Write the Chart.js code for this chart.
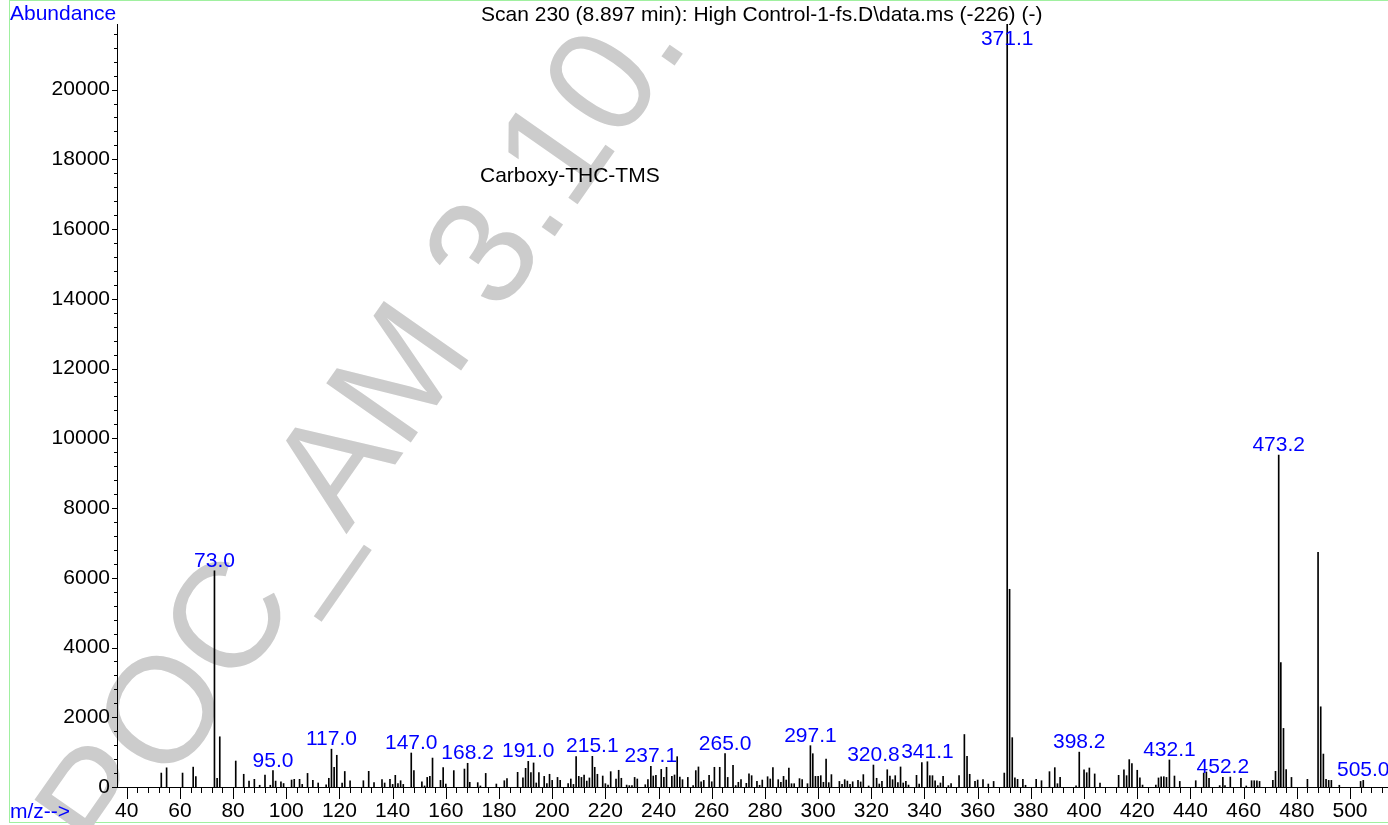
<!DOCTYPE html>
<html>
<head>
<meta charset="utf-8">
<title>Scan 230 - Carboxy-THC-TMS</title>
<script src="https://cdn.jsdelivr.net/npm/chart.js@4.4.1/dist/chart.umd.min.js"></script>
<style>
  html, body { margin: 0; padding: 0; background: #fff; }
  #wrap { width: 1388px; height: 825px; }
</style>
</head>
<body>
<div id="wrap"><canvas id="spectrum"></canvas></div>
<script>
// m/z of each peak
const mz = [
  53, 55, 61, 65, 66, 73.0, 74, 75, 81, 84,
  86, 88, 90, 92, 94, 95.0, 96, 98, 99, 102,
  103, 105, 106, 108, 110, 112, 115, 116, 117.0, 118,
  119, 121, 122, 124, 129, 131, 133, 136, 137, 139,
  140, 141, 142, 143, 144, 147.0, 148, 151, 152, 153,
  154, 155, 158, 159, 160, 163, 167, 168.2, 169, 172,
  173, 175, 179, 182, 183, 187, 189, 190, 191.0, 192,
  193, 194, 195, 197, 198, 199, 200, 202, 203, 206,
  207, 208, 209, 210, 211, 212, 213, 214, 215.1, 216,
  217, 219, 220, 221, 222, 224, 225, 226, 228, 229,
  230, 231, 232, 235, 236, 237.1, 238, 239, 241, 242,
  243, 245, 246, 247, 248, 249, 251, 253, 254, 255,
  256, 257, 259, 260, 261, 263, 265.0, 266, 268, 269,
  270, 271, 273, 274, 275, 277, 278, 279, 281, 282,
  283, 285, 286, 287, 288, 289, 290, 291, 293, 294,
  296, 297.1, 298, 299, 300, 301, 302, 303, 304, 305,
  308, 309, 310, 311, 312, 313, 315, 316, 317, 319,
  320.8, 322, 323, 324, 326, 327, 328, 329, 330, 331,
  332, 333, 334, 337, 338, 339, 341.1, 342, 343, 344,
  345, 346, 347, 349, 350, 353, 355, 356, 357, 359,
  360, 362, 364, 366, 370, 371.1, 372, 373, 374, 375,
  377, 378, 382, 384, 387, 389, 390, 391, 397, 398.2,
  400, 401, 402, 404, 406, 413, 415, 416, 417, 418,
  420, 421, 422, 427, 428, 429, 430, 431, 432.1, 434,
  436, 442, 445, 446, 447, 451, 452.2, 453, 455, 459,
  461, 463, 464, 465, 466, 471, 472, 473.2, 474, 475,
  476, 478, 484, 488, 489, 490, 491, 492, 493, 496,
  504, 505.0
];
const abundance = [
  400, 550, 400, 570, 300, 6200, 250, 1440, 745, 365,
  170, 220, 50, 345, 50, 470, 170, 145, 100, 200,
  220, 220, 75, 390, 190, 115, 60, 250, 1085, 565,
  910, 110, 445, 180, 180, 450, 125, 210, 115, 220,
  75, 335, 95, 180, 75, 975, 470, 150, 30, 275,
  305, 830, 190, 555, 85, 470, 515, 680, 135, 125,
  30, 390, 85, 180, 240, 420, 260, 535, 735, 410,
  690, 115, 410, 305, 95, 365, 190, 275, 190, 95,
  230, 75, 870, 305, 275, 345, 170, 260, 880, 565,
  365, 315, 95, 55, 440, 230, 480, 250, 55, 40,
  40, 275, 230, 65, 210, 590, 315, 335, 505, 275,
  565, 305, 345, 870, 285, 210, 275, 40, 470, 575,
  145, 190, 335, 150, 565, 565, 955, 275, 620, 40,
  135, 210, 105, 380, 325, 160, 50, 200, 295, 230,
  555, 210, 135, 305, 200, 545, 95, 95, 240, 210,
  95, 1185, 955, 305, 305, 325, 135, 800, 125, 355,
  160, 75, 210, 170, 75, 150, 190, 145, 355, 30,
  630, 250, 85, 160, 495, 315, 210, 325, 125, 575,
  115, 160, 55, 335, 85, 700, 725, 325, 325, 180,
  40, 115, 305, 40, 95, 325, 1505, 880, 365, 160,
  200, 210, 85, 160, 400, 21880, 5670, 1415, 265, 220,
  220, 50, 220, 180, 440, 555, 95, 275, 30, 1000,
  495, 410, 545, 375, 115, 335, 495, 325, 785, 670,
  480, 260, 55, 55, 260, 295, 295, 275, 775, 315,
  160, 180, 400, 430, 250, 40, 275, 40, 285, 250,
  30, 180, 180, 180, 160, 190, 450, 9520, 3570, 1680,
  500, 275, 220, 6730, 2300, 945, 220, 190, 190, 50,
  160, 190
];
// peaks that carry a blue m/z label
const labelled = [73.0, 95.0, 117.0, 147.0, 168.2, 191.0, 215.1, 237.1, 265.0,
  297.1, 320.8, 341.1, 371.1, 398.2, 432.1, 452.2, 473.2, 505.0];

const xTickLabels = [40, 60, 80, 100, 120, 140, 160, 180, 200, 220, 240, 260,
  280, 300, 320, 340, 360, 380, 400, 420, 440, 460, 480, 500];
const yTickLabels = [0, 2000, 4000, 6000, 8000, 10000, 12000, 14000, 16000, 18000, 20000];

const FONT = '"Liberation Sans", Arial, Helvetica, sans-serif';
Chart.defaults.font.family = FONT;
Chart.defaults.font.size = 21;
Chart.defaults.color = '#000';

const decor = {
  id: 'decor',
  beforeDraw(chart) {
    const ctx = chart.ctx;
    ctx.save();
    ctx.fillStyle = '#fff';
    ctx.fillRect(0, 0, chart.width, chart.height);
    ctx.strokeStyle = '#a0f0a0';
    ctx.lineWidth = 1;
    ctx.strokeRect(9.5, 0.5, chart.width, 822);
    // watermark
    ctx.translate(112, 869);
    ctx.rotate(-55 * Math.PI / 180);
    ctx.font = '150px ' + FONT;
    ctx.fillStyle = '#cccccc';
    ctx.fillText('POC_AM 3.10.', 0, 0);
    ctx.restore();
  },
  afterDraw(chart) {
    const ctx = chart.ctx;
    const x = chart.scales.x, y = chart.scales.y, a = chart.chartArea;
    ctx.save();
    // tick marks
    ctx.strokeStyle = '#000';
    ctx.lineWidth = 1;
    ctx.beginPath();
    for (let v = 40; v <= x.max; v += 4) {
      const px = Math.round(x.getPixelForValue(v)) + 0.5;
      const len = v % 20 === 0 ? 12 : 6;
      ctx.moveTo(px, a.bottom);
      ctx.lineTo(px, a.bottom + len);
    }
    for (let v = 0; v <= y.max; v += 400) {
      const py = Math.round(y.getPixelForValue(v)) + 0.5;
      const len = v % 2000 === 0 ? 5 : 3;
      ctx.moveTo(a.left, py);
      ctx.lineTo(a.left - len, py);
    }
    ctx.stroke();

    // peak labels
    ctx.font = '21px ' + FONT;
    ctx.fillStyle = '#0000ff';
    ctx.textAlign = 'center';
    ctx.textBaseline = 'alphabetic';
    labelled.forEach(m => {
      const i = mz.indexOf(m);
      const px = x.getPixelForValue(m);
      const top = y.getPixelForValue(abundance[i]);
      ctx.fillText(m.toFixed(1), px, Math.max(top - 4, a.top + 21));
    });

    ctx.textAlign = 'left';
    ctx.fillText('Abundance', 10, 20);
    ctx.fillText('m/z-->', 10, 818);
    ctx.fillStyle = '#000';
    ctx.fillText('Scan 230 (8.897 min): High Control-1-fs.D\\data.ms (-226) (-)', 481, 21);
    ctx.fillText('Carboxy-THC-TMS', 480, 182);
    ctx.restore();
  }
};

new Chart(document.getElementById('spectrum'), {
  type: 'bar',
  data: {
    datasets: [{
      data: mz.map((m, i) => ({ x: m, y: abundance[i] })),
      backgroundColor: '#000',
      borderWidth: 0,
      barThickness: 1
    }]
  },
  options: {
    responsive: true,
    maintainAspectRatio: false,
    animation: false,
    layout: { padding: { left: 9, top: 24, right: 0, bottom: 0 } },
    plugins: { legend: { display: false }, tooltip: { enabled: false } },
    scales: {
      x: {
        type: 'linear',
        min: 36.35,
        max: 514.3,
        offset: false,
        grid: { display: false, drawTicks: false },
        border: { display: true, color: '#000', width: 1 },
        ticks: { autoSkip: false, maxRotation: 0, padding: 12, color: '#000' },
        afterBuildTicks: s => { s.ticks = xTickLabels.map(v => ({ value: v })); },
        afterFit: s => { s.height = 38; }
      },
      y: {
        min: 0,
        max: 21880,
        grid: { display: false, drawTicks: false },
        border: { display: true, color: '#000', width: 1 },
        ticks: { padding: 7, color: '#000', callback: v => String(v) },
        afterBuildTicks: s => { s.ticks = yTickLabels.map(v => ({ value: v })); },
        afterFit: s => { s.width = 108; }
      }
    }
  },
  plugins: [decor]
});
</script>
</body>
</html>
